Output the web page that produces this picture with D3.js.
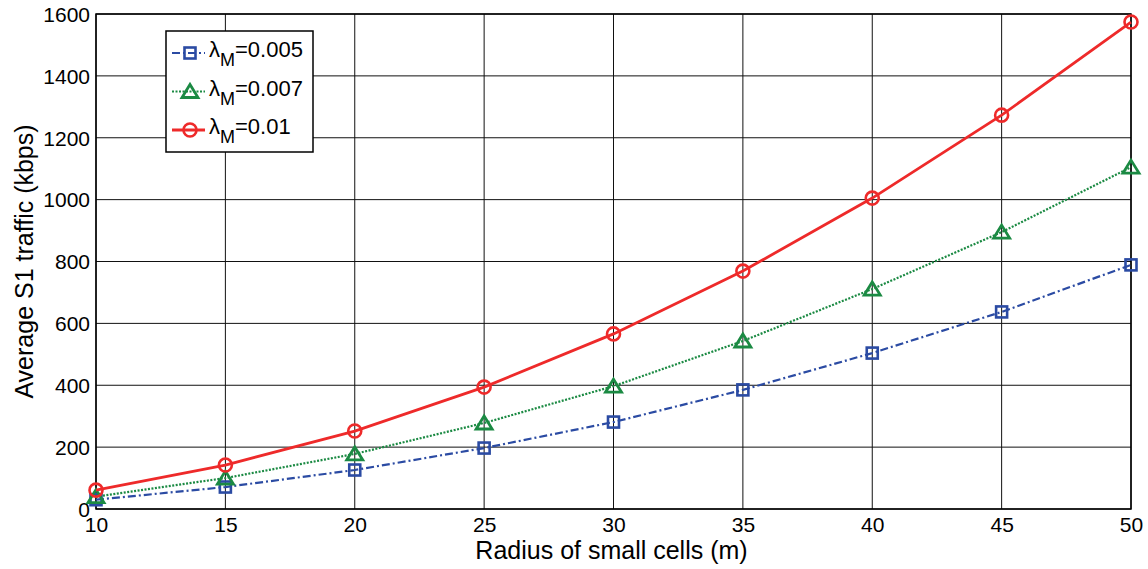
<!DOCTYPE html>
<html>
<head>
<meta charset="utf-8">
<script src="https://cdn.jsdelivr.net/npm/d3@7"></script>
<style>
  body { margin: 0; background: #fff; }
  text { font-family: "Liberation Sans", Arial, sans-serif; }
</style>
</head>
<body>
<div id="chart"></div>
<script>
// radius of small cells (m)
var radius = [10, 15, 20, 25, 30, 35, 40, 45, 50];
var lambda005 = [30, 71, 126, 197, 281, 385, 504, 637, 789];
var lambda007 = [40, 100, 178, 278, 397, 543, 711, 895, 1105];
var lambda01 = [61, 142, 252, 394, 566, 769, 1005, 1273, 1574];
var xTicks = [10, 15, 20, 25, 30, 35, 40, 45, 50];
var yTicks = [0, 200, 400, 600, 800, 1000, 1200, 1400, 1600];
var seriesNames = ["0.005", "0.007", "0.01"];

var margin = { left: 96, right: 17, top: 14, bottom: 60 };
var W = 1148, H = 569;
var width = W - margin.left - margin.right;
var height = H - margin.top - margin.bottom;

var svg = d3.select("#chart").append("svg")
    .attr("width", W).attr("height", H);
var g = svg.append("g").attr("transform", "translate(" + margin.left + "," + margin.top + ")");

var x = d3.scaleLinear().domain([10, 50]).range([0, width]);
var y = d3.scaleLinear().domain([0, 1600]).range([height, 0]);

// grid
g.selectAll(".hgrid").data(yTicks).enter().append("line")
    .attr("x1", 0).attr("x2", width)
    .attr("y1", d => y(d)).attr("y2", d => y(d))
    .attr("stroke", "#111").attr("stroke-width", 1);
g.selectAll(".vgrid").data(xTicks).enter().append("line")
    .attr("y1", 0).attr("y2", height)
    .attr("x1", d => x(d)).attr("x2", d => x(d))
    .attr("stroke", "#111").attr("stroke-width", 1);

// axes
var xAxis = d3.axisBottom(x).tickValues(xTicks).tickSize(0).tickPadding(8);
var yAxis = d3.axisLeft(y).tickValues(yTicks).tickSize(0).tickPadding(6).tickFormat(d3.format("d"));
var gx = g.append("g").attr("transform", "translate(0," + height + ")").call(xAxis);
var gy = g.append("g").call(yAxis);
[gx, gy].forEach(function(a) {
  a.select(".domain").remove();
  a.selectAll("text").attr("font-size", 21).attr("fill", "#000")
    .style("font-family", "Liberation Sans, Arial, sans-serif");
});
gy.selectAll("text").attr("dy", "0.35em");

g.append("rect").attr("width", width).attr("height", height)
    .attr("fill", "none").attr("stroke", "#000").attr("stroke-width", 1.5);

// labels
svg.append("text").attr("x", margin.left + width / 2 - 2).attr("y", 559)
    .attr("text-anchor", "middle").attr("font-size", 25).text("Radius of small cells (m)");
svg.append("text").attr("transform", "translate(33," + (margin.top + height / 2) + ") rotate(-90)")
    .attr("text-anchor", "middle").attr("font-size", 25).text("Average S1 traffic (kbps)");

var series = [
  { vals: lambda005, color: "#2b4ba3", dash: "8,3,2,3", width: 2.2, marker: "square" },
  { vals: lambda007, color: "#1b8a43", dash: "2,1.5", width: 2.2, marker: "triangle" },
  { vals: lambda01, color: "#ee2a2a", dash: null, width: 2.8, marker: "circle" }
];

var line = d3.line().x((d, i) => x(radius[i])).y(d => y(d));

function drawMarker(sel, type, color) {
  if (type === "square") {
    sel.append("rect").attr("x", -5.5).attr("y", -5.5).attr("width", 11).attr("height", 11)
      .attr("fill", "none").attr("stroke", color).attr("stroke-width", 2.6);
  } else if (type === "triangle") {
    sel.append("path").attr("d", "M0,-7L8,6L-8,6Z")
      .attr("fill", "none").attr("stroke", color).attr("stroke-width", 2.8);
  } else {
    sel.append("circle").attr("r", 6.5)
      .attr("fill", "none").attr("stroke", color).attr("stroke-width", 2.6);
  }
}

series.forEach(function(s) {
  g.append("path").datum(s.vals).attr("d", line)
    .attr("fill", "none").attr("stroke", s.color).attr("stroke-width", s.width)
    .attr("stroke-dasharray", s.dash);
  s.vals.forEach(function(v, i) {
    var m = g.append("g").attr("transform", "translate(" + x(radius[i]) + "," + y(v) + ")");
    drawMarker(m, s.marker, s.color);
  });
});

// legend
var leg = svg.append("g").attr("transform", "translate(166,31)");
leg.append("rect").attr("width", 147).attr("height", 121)
  .attr("fill", "#fff").attr("stroke", "#000").attr("stroke-width", 1.5);
series.forEach(function(s, i) {
  var ly = 22 + i * 38.5;
  leg.append("line").attr("x1", 6).attr("x2", 39).attr("y1", ly).attr("y2", ly)
    .attr("stroke", s.color).attr("stroke-width", s.width).attr("stroke-dasharray", s.dash);
  drawMarker(leg.append("g").attr("transform", "translate(24," + ly + ")"), s.marker, s.color);
  var t = leg.append("text").attr("x", 43).attr("y", ly + 4).attr("font-size", 22);
  t.append("tspan").text("λ");
  t.append("tspan").attr("font-size", 18).attr("dy", 9).text("M");
  t.append("tspan").attr("dy", -9).text("=" + seriesNames[i]);
});
</script>
</body>
</html>
